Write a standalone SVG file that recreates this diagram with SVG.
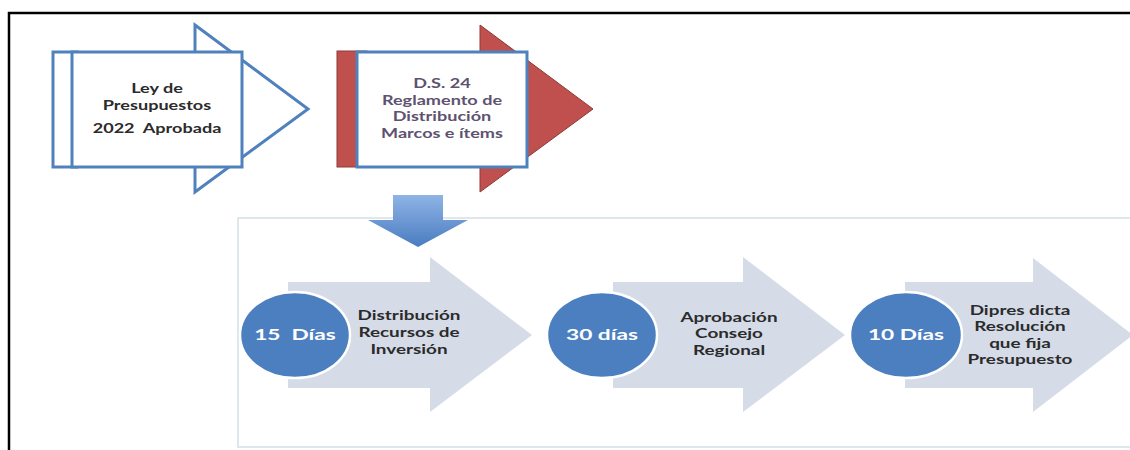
<svg xmlns="http://www.w3.org/2000/svg" width="1130" height="450" viewBox="0 0 1130 450">
<defs>
<linearGradient id="blueDown" x1="0" y1="0" x2="0" y2="1">
<stop offset="0" stop-color="#8fb4e6"/>
<stop offset="1" stop-color="#4a7cc0"/>
</linearGradient>
</defs>
<style>
.t{font-family:Lato,"Open Sans","Liberation Sans",sans-serif;font-weight:bold;font-size:13.5px;text-anchor:middle}
.dark{fill:#2b2b2b}
.purple{fill:#5e5270}
.white{fill:#ffffff;font-size:16px}
.big{fill:#d5dce8}
.circ{fill:#4c7fbf;stroke:#ffffff;stroke-width:2.5}
.box{fill:#ffffff;stroke:#4f81bd;stroke-width:3}
</style>
<rect x="0" y="0" width="1130" height="450" fill="#ffffff"/>
<g id="frame">
<path d="M9 450 V13 H1130" fill="none" stroke="#000000" stroke-width="2.5"/>
</g>
<g id="panel">
<rect x="238" y="218" width="900" height="229" fill="#ffffff" stroke="#d3e0e6" stroke-width="1.5"/>
</g>
<g id="node-ley">
<polygon points="195,25 308,109 195,192" fill="#ffffff" stroke="#4f81bd" stroke-width="3" stroke-linejoin="miter"/>
<rect x="53" y="52" width="24" height="115" class="box"/>
<rect x="72" y="52" width="170" height="115" class="box"/>
<text class="t dark" transform="translate(157 0) scale(1.34 1)" xml:space="preserve"><tspan x="0" y="93">Ley de</tspan><tspan x="0" y="110">Presupuestos</tspan><tspan x="0" y="133">2022  Aprobada</tspan></text>
</g>
<g id="node-ds24">
<polygon points="480,25 593,109 480,192" fill="#c0504d" stroke="#8c3a38" stroke-width="1"/>
<rect x="337" y="51" width="30" height="116" fill="#c0504d" stroke="#8c3a38" stroke-width="1"/>
<rect x="357" y="52" width="170" height="115" class="box"/>
<text class="t purple" transform="translate(442 0) scale(1.34 1)"><tspan x="0" y="88">D.S. 24</tspan><tspan x="0" y="105">Reglamento de</tspan><tspan x="0" y="121.5">Distribución</tspan><tspan x="0" y="138">Marcos e ítems</tspan></text>
</g>
<g id="connectors">
<polygon points="393,195 443,195 443,220 468,220 418,247 368,220 393,220" fill="url(#blueDown)"/>
</g>
<g id="step1">
<polygon class="big" points="288,282 430,282 430,257 532,335 430,412 430,388 288,388"/>
<ellipse class="circ" cx="295" cy="335" rx="55" ry="43"/>
<text class="t white" transform="translate(295 0) scale(1.42 1)" x="0" y="340" xml:space="preserve">15  Días</text>
<text class="t dark" transform="translate(409 0) scale(1.4 1)"><tspan x="0" y="320">Distribución</tspan><tspan x="0" y="337">Recursos de</tspan><tspan x="0" y="354">Inversión</tspan></text>
</g>
<g id="step2">
<polygon class="big" points="613,282 743,282 743,257 845,335 743,412 743,388 613,388"/>
<ellipse class="circ" cx="602" cy="335" rx="55" ry="43"/>
<text class="t white" transform="translate(602 0) scale(1.42 1)" x="0" y="340">30 días</text>
<text class="t dark" transform="translate(729 0) scale(1.4 1)"><tspan x="0" y="322">Aprobación</tspan><tspan x="0" y="338.5">Consejo</tspan><tspan x="0" y="355">Regional</tspan></text>
</g>
<g id="step3">
<polygon class="big" points="905,282 1033,282 1033,258 1133,335 1033,412 1033,388 905,388"/>
<ellipse class="circ" cx="906" cy="335" rx="56" ry="43"/>
<text class="t white" transform="translate(906 0) scale(1.42 1)" x="0" y="340">10 Días</text>
<text class="t dark" transform="translate(1020 0) scale(1.4 1)"><tspan x="0" y="315">Dipres dicta</tspan><tspan x="0" y="331.5">Resolución</tspan><tspan x="0" y="348">que fija</tspan><tspan x="0" y="364.5">Presupuesto</tspan></text>
</g>
</svg>
